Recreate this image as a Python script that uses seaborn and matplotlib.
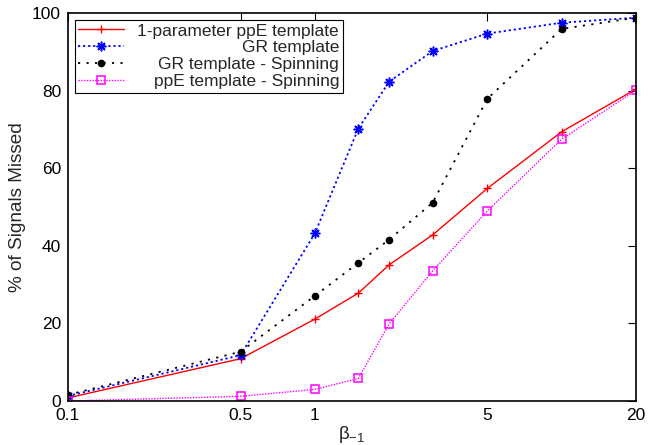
import numpy as np
import pandas as pd
import matplotlib
matplotlib.use("Agg")
import matplotlib.pyplot as plt
import matplotlib.transforms as mtransforms
import seaborn as sns

beta = [0.1, 0.5, 1, 1.5, 2, 3, 5, 10, 20]
ppe_1param = [0.8, 10.9, 21.1, 27.8, 35.1, 42.8, 54.8, 69.4, 80.4]
gr_template = [1.3, 11.8, 43.2, 70.2, 82.3, 90.2, 94.7, 97.5, 98.8]
gr_spinning = [1.6, 12.7, 27.1, 35.6, 41.6, 51.1, 77.9, 95.9, 98.8]
ppe_spinning = [0.0, 1.2, 3.0, 5.8, 19.9, 33.5, 49.0, 67.5, 80.1]

series_names = ["1-parameter ppE template", "GR template",
                "GR template - Spinning", "ppE template - Spinning"]
xticks = [0.1, 0.5, 1, 5, 20]
xticklabels = ["0.1", "0.5", "1", "5", "20"]
yticks = [0, 20, 40, 60, 80, 100]

sns.set_style("white")
plt.rcParams["font.family"] = ["Liberation Sans", "DejaVu Sans"]
plt.rcParams["mathtext.default"] = "regular"

fig = plt.figure(figsize=(6.49, 4.45), dpi=100)
ax = fig.add_axes([68/649, 44/445, (636-68)/649, (401-13)/445])

styles = [
    dict(color="#ff0000", marker="+", markersize=6, mew=1.0, mec="#ff0000", linestyle="-", lw=1.0),
    dict(color="#0000ff", marker=(8, 2, 0), markersize=7, mew=1.1, mec="#0000ff", linestyle=(0, (1.2, 1.6)), lw=1.3),
    dict(color="#000000", marker="o", markersize=5.5, mew=0, mec="#000000", linestyle=(0, (1.2, 3.5)), lw=1.3),
    dict(color="#ff00ff", marker="s", markersize=6, mew=1.1, mec="#ff00ff", mfc="none", linestyle=(0, (1, 1)), lw=1.0),
]
for name, vals, st in zip(series_names, [ppe_1param, gr_template, gr_spinning, ppe_spinning], styles):
    df = pd.DataFrame({"beta": beta, "missed": vals})
    sns.lineplot(data=df, x="beta", y="missed", ax=ax, label=name, **st)

ax.set_xscale("log")
ax.set_xlim(0.1, 20)
ax.set_ylim(0, 100)
ax.set_xticks(xticks)
ax.set_xticklabels(xticklabels)
ax.xaxis.set_minor_locator(matplotlib.ticker.NullLocator())
ax.set_yticks(yticks)
ax.tick_params(axis="both", which="both", direction="in", length=6, width=0.8,
               top=True, right=True, labelsize=12.5, pad=5, colors="black")
for s in ax.spines.values():
    s.set_visible(True)
    s.set_color("black")
    s.set_linewidth(1.2)

ax.set_xlabel(r"$\mathregular{\beta_{-1}}$", fontsize=13.5, labelpad=1)
ax.set_ylabel("% of Signals Missed", fontsize=13.7, labelpad=4)

leg = ax.legend(loc="upper left", bbox_to_anchor=(0.0, 1.0), fontsize=12.5,
                frameon=True, fancybox=False, edgecolor="black", framealpha=1,
                handlelength=2.6, handletextpad=0.8, labelspacing=0.1,
                borderpad=0.2, borderaxespad=0.4)
leg.get_frame().set_linewidth(0.8)

fig.canvas.draw()
texts = leg.get_texts()
widths = [t.get_window_extent().width for t in texts]
maxw = max(widths)
for t, w in zip(texts, widths):
    t.set_transform(t.get_transform() + mtransforms.Affine2D().translate(maxw - w, 0))

fig.savefig("out.png", dpi=100)
